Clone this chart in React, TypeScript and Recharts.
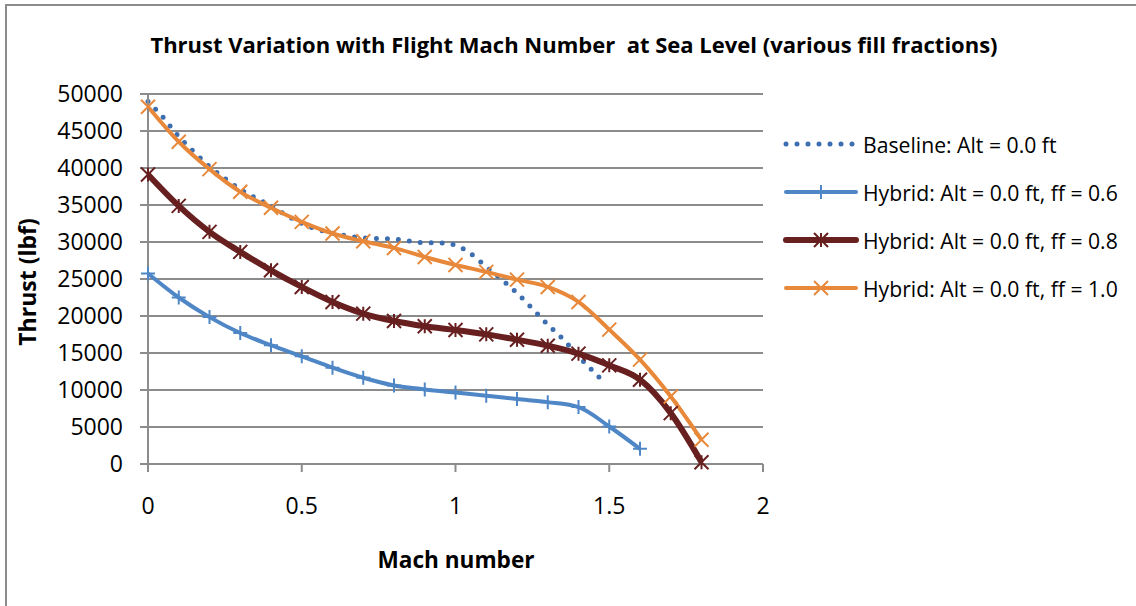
import React from 'react';
import { LineChart, Line, XAxis, YAxis, CartesianGrid } from 'recharts';

const machHybrid = [0, 0.1, 0.2, 0.3, 0.4, 0.5, 0.6, 0.7, 0.8, 0.9, 1.0, 1.1, 1.2, 1.3, 1.4, 1.5, 1.6, 1.7, 1.8];
const thrustFF06 = [25750, 22500, 19850, 17700, 16050, 14550, 13020, 11660, 10620, 10080, 9650, 9230, 8770, 8360, 7690, 5070, 2050];
const thrustFF08 = [39130, 34880, 31370, 28660, 26180, 23930, 21900, 20320, 19320, 18610, 18100, 17520, 16800, 15990, 14910, 13330, 11390, 6870, 240];
const thrustFF10 = [48280, 43550, 39850, 36780, 34620, 32720, 31150, 30110, 29200, 27980, 26900, 25960, 24920, 23930, 21900, 18160, 14100, 9130, 3270];

const machBaseline = [0, 0.05, 0.1, 0.15, 0.2, 0.25, 0.3, 0.35, 0.4, 0.45, 0.5, 0.55, 0.6, 0.65, 0.7, 0.75, 0.8, 0.85, 0.9, 0.95, 1.0, 1.05, 1.1, 1.15, 1.2, 1.25, 1.3, 1.35, 1.4, 1.45, 1.48];
const thrustBaseline = [49000, 46800, 44250, 42150, 40200, 38600, 37100, 35950, 34900, 33600, 32500, 31700, 31200, 30800, 30550, 30450, 30400, 30150, 29900, 29880, 29550, 28400, 26650, 24950, 23100, 21000, 18850, 16850, 14550, 12450, 11200];

const xTicks = [0, 0.5, 1, 1.5, 2];
const yTicks = [0, 5000, 10000, 15000, 20000, 25000, 30000, 35000, 40000, 45000, 50000];

const seriesNames = [
  'Baseline: Alt = 0.0 ft',
  'Hybrid: Alt = 0.0 ft, ff = 0.6',
  'Hybrid: Alt = 0.0 ft, ff = 0.8',
  'Hybrid: Alt = 0.0 ft, ff = 1.0',
];

const title = 'Thrust Variation with Flight Mach Number  at Sea Level (various fill fractions)';
const xTitle = 'Mach number';
const yTitle = 'Thrust (lbf)';

const C_BASE = '#3c6eb0';
const C_06 = '#4f86c6';
const C_08 = '#67201f';
const C_10 = '#e8883a';

const toData = (xs: number[], ys: number[]) => ys.map((y, i) => ({ mach: xs[i], thrust: y }));
const dBase = toData(machBaseline, thrustBaseline);
const d06 = toData(machHybrid, thrustFF06);
const d08 = toData(machHybrid, thrustFF08);
const d10 = toData(machHybrid, thrustFF10);

const FONT = '"Open Sans", "Noto Sans", sans-serif';

function markerPath(kind: string, cx: number, cy: number, s: number) {
  if (kind === 'plus') return `M${cx},${cy - s}V${cy + s}M${cx - s},${cy}H${cx + s}`;
  if (kind === 'x') return `M${cx - s},${cy - s}L${cx + s},${cy + s}M${cx - s},${cy + s}L${cx + s},${cy - s}`;
  return `M${cx},${cy - s}V${cy + s}M${cx - s},${cy - s}L${cx + s},${cy + s}M${cx - s},${cy + s}L${cx + s},${cy - s}`;
}

const makeDot = (kind: string, color: string, s: number, w: number) => (props: any) => {
  const { cx, cy, index } = props;
  if (cx == null || cy == null) return <g key={`d${index}`} />;
  return <path key={`d${index}`} d={markerPath(kind, cx, cy, s)} stroke={color} strokeWidth={w} fill="none" />;
};

const legendDefs = [
  { name: seriesNames[0], color: C_BASE, width: 5, dash: '0 11', marker: '' },
  { name: seriesNames[1], color: C_06, width: 4, dash: '', marker: 'plus' },
  { name: seriesNames[2], color: C_08, width: 6, dash: '', marker: 'star' },
  { name: seriesNames[3], color: C_10, width: 4, dash: '', marker: 'x' },
];

const LegendBox = () => (
  <svg width={350} height={190} style={{ display: 'block' }}>
    {legendDefs.map((d, i) => {
      const y = 16 + i * 48;
      return (
        <g key={d.name}>
          <line x1={6} x2={76} y1={y} y2={y} stroke={d.color} strokeWidth={d.width}
            strokeDasharray={d.dash || undefined} strokeLinecap="round" />
          {d.marker && <path d={markerPath(d.marker, 41, y, 7)} stroke={d.color} strokeWidth={2} fill="none" />}
          <text x={83} y={y} dominantBaseline="central" fontFamily={FONT} fontSize={21.2} fill="#000">{d.name}</text>
        </g>
      );
    })}
  </svg>
);

export default function App() {
  return (
    <div style={{ position: 'fixed', left: 0, top: 0, width: 1136, height: 606, overflow: 'hidden', background: '#fff' }}>
      <div style={{ position: 'absolute', left: 5, top: 4, width: 1300, height: 800, border: '2px solid #8c8c8c' }} />
      <div style={{ position: 'absolute', left: 0, top: 0 }}>
        <LineChart width={1136} height={606} margin={{ top: 94, right: 373, bottom: 112, left: 88 }}>
          <CartesianGrid horizontal vertical={false} stroke="#8c8c8c" strokeWidth={2} />
          <XAxis dataKey="mach" type="number" domain={[0, 2]} ticks={xTicks} allowDuplicatedCategory={false}
            height={30} tickSize={8} tickMargin={26}
            axisLine={{ stroke: '#8c8c8c', strokeWidth: 2 }} tickLine={{ stroke: '#8c8c8c', strokeWidth: 2 }}
            tick={{ fill: '#000', fontSize: 23, fontFamily: FONT }} />
          <YAxis type="number" domain={[0, 50000]} ticks={yTicks} width={60} tickSize={8} tickMargin={17}
            axisLine={{ stroke: '#8c8c8c', strokeWidth: 2 }} tickLine={{ stroke: '#8c8c8c', strokeWidth: 2 }}
            tick={{ fill: '#000', fontSize: 23, fontFamily: FONT }} interval={0} />
          <Line data={dBase} dataKey="thrust" name={seriesNames[0]} type="monotone" stroke={C_BASE} strokeWidth={5}
            strokeDasharray="0 11" strokeLinecap="round" dot={false} activeDot={false} isAnimationActive={false} />
          <Line data={d06} dataKey="thrust" name={seriesNames[1]} type="monotone" stroke={C_06} strokeWidth={4}
            dot={makeDot('plus', C_06, 7, 2)} activeDot={false} isAnimationActive={false} />
          <Line data={d08} dataKey="thrust" name={seriesNames[2]} type="monotone" stroke={C_08} strokeWidth={6}
            dot={makeDot('star', C_08, 7, 2)} activeDot={false} isAnimationActive={false} />
          <Line data={d10} dataKey="thrust" name={seriesNames[3]} type="monotone" stroke={C_10} strokeWidth={4}
            dot={makeDot('x', C_10, 7, 2)} activeDot={false} isAnimationActive={false} />
        </LineChart>
      </div>
      <div style={{ position: 'absolute', left: 780, top: 128 }}><LegendBox /></div>
      <div style={{ position: 'absolute', left: 0, width: 1148, top: 29, textAlign: 'center', fontFamily: FONT, fontWeight: 700, fontSize: 22, lineHeight: '30px', whiteSpace: 'pre' }}>{title}</div>
      <div style={{ position: 'absolute', left: 356, width: 200, top: 545, textAlign: 'center', fontFamily: FONT, fontWeight: 700, fontSize: 22.6, lineHeight: '30px' }}>{xTitle}</div>
      <div style={{ position: 'absolute', left: 27, top: 282, width: 0, height: 0 }}>
        <div style={{ position: 'absolute', left: -100, top: -15, width: 200, textAlign: 'center', transform: 'rotate(-90deg)', fontFamily: FONT, fontWeight: 700, fontSize: 23, lineHeight: '30px' }}>{yTitle}</div>
      </div>
    </div>
  );
}
